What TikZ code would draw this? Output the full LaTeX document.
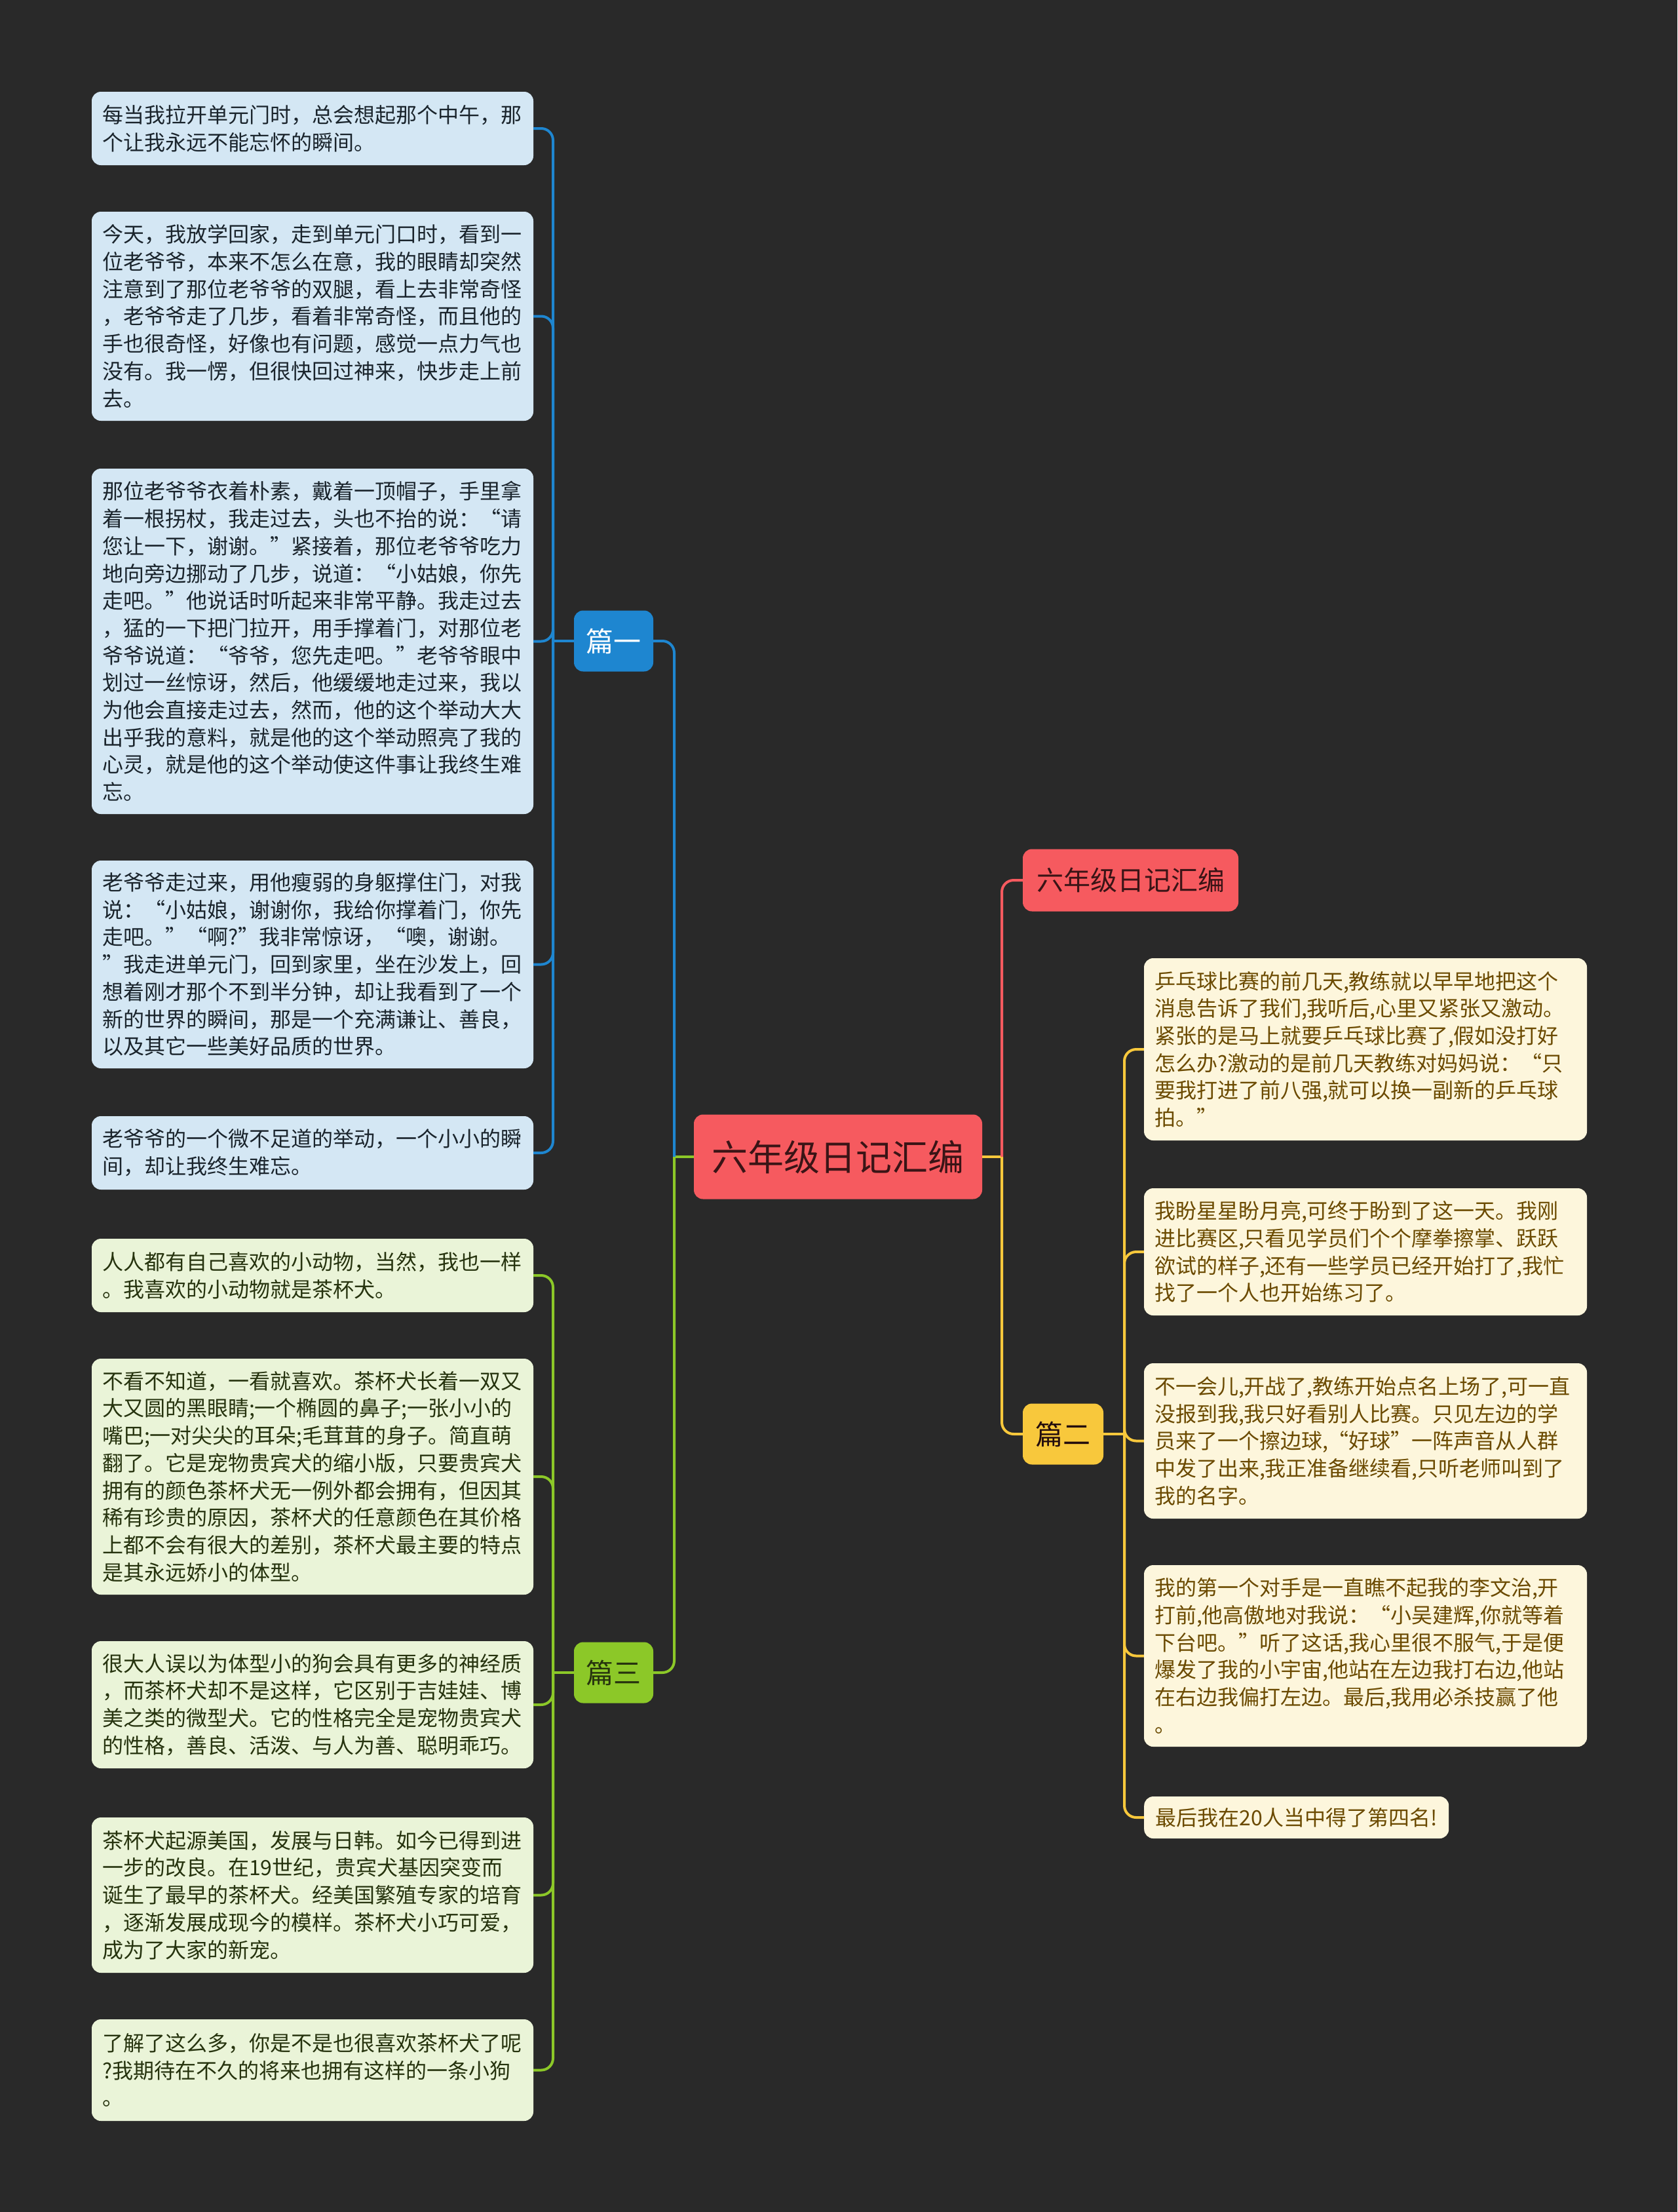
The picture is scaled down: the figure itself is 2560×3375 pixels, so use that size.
\documentclass[tikz,border=0pt]{standalone}
\usepackage{fontspec}
\setmainfont{Noto Sans CJK SC}
\definecolor{bgcol}{HTML}{292929}
\definecolor{bluefill}{HTML}{D4E7F4}
\definecolor{bluetext}{HTML}{1A242C}
\definecolor{blueline}{HTML}{1E86D0}
\definecolor{greenfill}{HTML}{EAF4D8}
\definecolor{greentext}{HTML}{26330E}
\definecolor{greenline}{HTML}{8CC828}
\definecolor{yelfill}{HTML}{FDF6DC}
\definecolor{yeltext}{HTML}{6B4A00}
\definecolor{yelline}{HTML}{F8C83C}
\definecolor{redfill}{HTML}{F65A5F}
\definecolor{redtext}{HTML}{3A1416}
\begin{document}
\begin{tikzpicture}[x=1pt,y=-1pt,
  leaf/.style={rounded corners=14pt, inner xsep=16pt, inner ysep=0pt, align=left,
    font=\fontsize{32pt}{41.7pt}\selectfont},
  lbox/.style={leaf, fill=bluefill, text=bluetext, text width=642pt},
  gbox/.style={leaf, fill=greenfill, text=greentext, text width=642pt},
  ybox/.style={leaf, fill=yelfill, text=yeltext, text width=644pt},
  topic/.style={rounded corners=14pt, inner sep=0pt, align=center},
  conn/.style={line width=4pt},
  bline/.style={conn, draw=blueline},
  gline/.style={conn, draw=greenline},
  yline/.style={conn, draw=yelline},
  rline/.style={conn, draw=redfill},
  rc/.style={rounded corners=18pt}
]
\useasboundingbox (0,0) rectangle (2560,3375);
\fill[bgcol] (0,0) rectangle (2560,3375);

% central and main topics
\node[topic, fill=redfill, text=redtext, minimum width=440pt, minimum height=129pt,
  font=\fontsize{55pt}{60pt}\selectfont] (center) at (1279,1765) {六年级日记汇编};
\node[topic, fill=redfill, text=redtext, minimum width=329pt, minimum height=95pt,
  font=\fontsize{41pt}{46pt}\selectfont] (sub) at (1725.5,1343) {六年级日记汇编};
\node[topic, fill=blueline, text=white, minimum width=121pt, minimum height=93pt,
  font=\fontsize{42pt}{46pt}\selectfont] (p1) at (936.5,978) {篇一};
\node[topic, fill=greenline, text=greentext, minimum width=121pt, minimum height=93pt,
  font=\fontsize{42pt}{46pt}\selectfont] (p3) at (936.5,2552) {篇三};
\node[topic, fill=yelline, text=redtext!60!black, minimum width=123pt, minimum height=93pt,
  font=\fontsize{42pt}{46pt}\selectfont] (p2) at (1622.5,2188) {篇二};

% blue leaves
\node[lbox, minimum height=112pt] (b1) at (477,196) {每当我拉开单元门时，总会想起那个中午，那\\个让我永远不能忘怀的瞬间。};
\node[lbox, minimum height=319pt] (b2) at (477,482.5) {今天，我放学回家，走到单元门口时，看到一\\位老爷爷，本来不怎么在意，我的眼睛却突然\\注意到了那位老爷爷的双腿，看上去非常奇怪\\，老爷爷走了几步，看着非常奇怪，而且他的\\手也很奇怪，好像也有问题，感觉一点力气也\\没有。我一愣，但很快回过神来，快步走上前\\去。};
\node[lbox, minimum height=527pt] (b3) at (477,978.5) {那位老爷爷衣着朴素，戴着一顶帽子，手里拿\\着一根拐杖，我走过去，头也不抬的说：“请\\您让一下，谢谢。”紧接着，那位老爷爷吃力\\地向旁边挪动了几步，说道：“小姑娘，你先\\走吧。”他说话时听起来非常平静。我走过去\\，猛的一下把门拉开，用手撑着门，对那位老\\爷爷说道：“爷爷，您先走吧。”老爷爷眼中\\划过一丝惊讶，然后，他缓缓地走过来，我以\\为他会直接走过去，然而，他的这个举动大大\\出乎我的意料，就是他的这个举动照亮了我的\\心灵，就是他的这个举动使这件事让我终生难\\忘。};
\node[lbox, minimum height=317pt] (b4) at (477,1471.5) {老爷爷走过来，用他瘦弱的身躯撑住门，对我\\说：“小姑娘，谢谢你，我给你撑着门，你先\\走吧。”“啊?”我非常惊讶，“噢，谢谢。\\”我走进单元门，回到家里，坐在沙发上，回\\想着刚才那个不到半分钟，却让我看到了一个\\新的世界的瞬间，那是一个充满谦让、善良，\\以及其它一些美好品质的世界。};
\node[lbox, minimum height=112pt] (b5) at (477,1759) {老爷爷的一个微不足道的举动，一个小小的瞬\\间，却让我终生难忘。};

% green leaves
\node[gbox, minimum height=112pt] (g1) at (477,1946) {人人都有自己喜欢的小动物，当然，我也一样\\。我喜欢的小动物就是茶杯犬。};
\node[gbox, minimum height=360pt] (g2) at (477,2253) {不看不知道，一看就喜欢。茶杯犬长着一双又\\大又圆的黑眼睛;一个椭圆的鼻子;一张小小的\\嘴巴;一对尖尖的耳朵;毛茸茸的身子。简直萌\\翻了。它是宠物贵宾犬的缩小版，只要贵宾犬\\拥有的颜色茶杯犬无一例外都会拥有，但因其\\稀有珍贵的原因，茶杯犬的任意颜色在其价格\\上都不会有很大的差别，茶杯犬最主要的特点\\是其永远娇小的体型。};
\node[gbox, minimum height=194pt] (g3) at (477,2601) {很大人误以为体型小的狗会具有更多的神经质\\，而茶杯犬却不是这样，它区别于吉娃娃、博\\美之类的微型犬。它的性格完全是宠物贵宾犬\\的性格，善良、活泼、与人为善、聪明乖巧。};
\node[gbox, minimum height=237pt] (g4) at (477,2891.5) {茶杯犬起源美国，发展与日韩。如今已得到进\\一步的改良。在19世纪，贵宾犬基因突变而\\诞生了最早的茶杯犬。经美国繁殖专家的培育\\，逐渐发展成现今的模样。茶杯犬小巧可爱，\\成为了大家的新宠。};
\node[gbox, minimum height=155pt] (g5) at (477,3158.5) {了解了这么多，你是不是也很喜欢茶杯犬了呢\\?我期待在不久的将来也拥有这样的一条小狗\\。};

% yellow leaves
\node[ybox, minimum height=278pt] (y1) at (2084,1601) {乒乓球比赛的前几天,教练就以早早地把这个\\消息告诉了我们,我听后,心里又紧张又激动。\\紧张的是马上就要乒乓球比赛了,假如没打好\\怎么办?激动的是前几天教练对妈妈说：“只\\要我打进了前八强,就可以换一副新的乒乓球\\拍。”};
\node[ybox, minimum height=194pt] (y2) at (2084,1910) {我盼星星盼月亮,可终于盼到了这一天。我刚\\进比赛区,只看见学员们个个摩拳擦掌、跃跃\\欲试的样子,还有一些学员已经开始打了,我忙\\找了一个人也开始练习了。};
\node[ybox, minimum height=237pt] (y3) at (2084,2198.5) {不一会儿,开战了,教练开始点名上场了,可一直\\没报到我,我只好看别人比赛。只见左边的学\\员来了一个擦边球,“好球”一阵声音从人群\\中发了出来,我正准备继续看,只听老师叫到了\\我的名字。};
\node[ybox, minimum height=277pt] (y4) at (2084,2526.5) {我的第一个对手是一直瞧不起我的李文治,开\\打前,他高傲地对我说：“小吴建辉,你就等着\\下台吧。”听了这话,我心里很不服气,于是便\\爆发了我的小宇宙,他站在左边我打右边,他站\\在右边我偏打左边。最后,我用必杀技赢了他\\。};
\node[leaf, fill=yelfill, text=yeltext, minimum width=465pt, minimum height=64pt, anchor=west] (y5) at (1746,2773) {最后我在20人当中得了第四名!};

% connectors from centre
\draw[gline] (center.west) -- (1029,1765);
\draw[bline, rc] (1029,1765) -- (1029,978) -- (p1.east);
\draw[gline, rc] (1029,1765) -- (1029,2552) -- (p3.east);
\draw[yline] (center.east) -- (1529,1765);
\draw[yline, rc] (1529,1765) -- (1529,2188) -- (p2.west);
\draw[rline, rc] (1529,1765) -- (1529,1343) -- (sub.west);

% 篇一 children
\draw[bline] (p1.west) -- (844,978);
\foreach \n in {b1,b2,b3,b4,b5}{
  \draw[bline, rc] (844,978) -- (844,0 |- \n.east) -- (\n.east);
}
% 篇三 children
\draw[gline] (p3.west) -- (844,2552);
\foreach \n in {g1,g2,g3,g4,g5}{
  \draw[gline, rc] (844,2552) -- (844,0 |- \n.east) -- (\n.east);
}
% 篇二 children
\draw[yline] (p2.east) -- (1716,2188);
\foreach \n in {y1,y2,y3,y4,y5}{
  \draw[yline, rc] (1716,2188) -- (1716,0 |- \n.west) -- (\n.west);
}
\end{tikzpicture}
\end{document}
